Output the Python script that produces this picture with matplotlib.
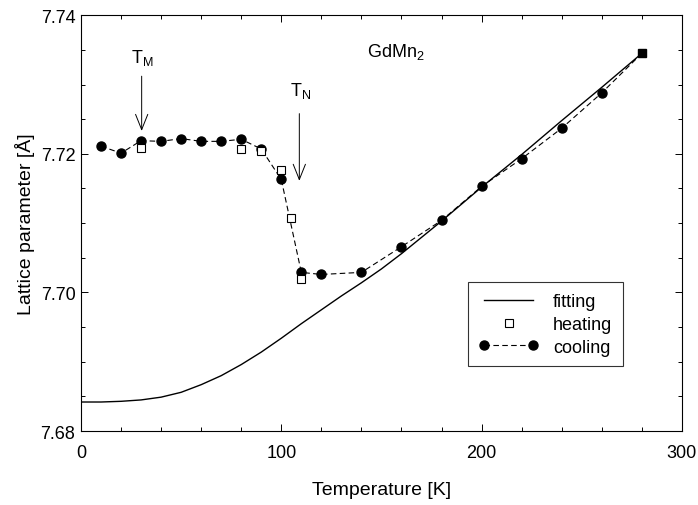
import matplotlib
matplotlib.use("Agg")
import matplotlib.pyplot as plt
from matplotlib.ticker import MultipleLocator
from matplotlib.lines import Line2D
from matplotlib.legend_handler import HandlerLine2D

plt.rcParams["font.family"] = ["Liberation Sans", "DejaVu Sans"]
plt.rcParams["mathtext.default"] = "regular"

# fitting curve
fit_T = [0, 10, 20, 30, 40, 50, 60, 70, 80, 90, 100, 110, 120, 130, 140,
         150, 160, 180, 200, 220, 240, 260, 280]
fit_a = [7.6842, 7.6842, 7.6843, 7.6845, 7.6849, 7.6856, 7.6867, 7.6880,
         7.6896, 7.6914, 7.6934, 7.6955, 7.6975, 7.6995, 7.7014, 7.7034,
         7.7056, 7.7103, 7.7152, 7.7199, 7.7248, 7.7296, 7.7345]

# heating (open squares)
heat_T = [30, 80, 90, 100, 105, 110]
heat_a = [7.7209, 7.7207, 7.7204, 7.7177, 7.7108, 7.7020]

# cooling (filled circles, dashed line)
cool_T = [10, 20, 30, 40, 50, 60, 70, 80, 90, 100, 110, 120, 140, 160,
          180, 200, 220, 240, 260]
cool_a = [7.7211, 7.7201, 7.7219, 7.7218, 7.7222, 7.7218, 7.7218, 7.7221,
          7.7207, 7.7163, 7.7029, 7.7026, 7.7029, 7.7066, 7.7104, 7.7153,
          7.7193, 7.7237, 7.7288]

# last point where both runs coincide
end_T = 280
end_a = 7.7345

dash = (0, (5, 3))

fig = plt.figure(figsize=(6.98, 5.06), dpi=100)
ax = fig.add_axes([0.116, 0.146, 0.861, 0.822])

ax.plot(fit_T, fit_a, color="black", lw=1.0)
ax.plot(cool_T + [end_T], cool_a + [end_a], color="black", lw=0.8,
        ls=dash, marker="o", ms=6.5, markevery=list(range(len(cool_T))),
        zorder=3)
ax.plot(heat_T, heat_a, ls="none", marker="s", ms=5.5, mfc="white",
        mec="black", mew=0.8, zorder=4)
ax.plot([end_T], [end_a], ls="none", marker="s", ms=6, color="black", zorder=5)

ax.set_xlim(0, 300)
ax.set_ylim(7.68, 7.74)
ax.xaxis.set_major_locator(MultipleLocator(100))
ax.xaxis.set_minor_locator(MultipleLocator(20))
ax.yaxis.set_major_locator(MultipleLocator(0.02))
ax.yaxis.set_minor_locator(MultipleLocator(0.005))
ax.yaxis.set_major_formatter(plt.FormatStrFormatter("%.2f"))
ax.tick_params(which="both", direction="in", top=True, right=True,
               labelsize=13, width=0.7)
ax.tick_params(which="major", length=5)
ax.tick_params(which="minor", length=3)
ax.tick_params(axis="x", pad=9)
ax.tick_params(axis="y", pad=4)
for s in ax.spines.values():
    s.set_linewidth(0.8)

ax.set_xlabel("Temperature [K]", fontsize=14, labelpad=15)
ax.set_ylabel("Lattice parameter [Å]", fontsize=14, labelpad=4)

ax.text(143, 7.7348, "GdMn$_2$", fontsize=13, va="center", ha="left")
ax.text(30.5, 7.7340, "T$_M$", fontsize=13, va="center", ha="center")
ax.text(109.5, 7.7292, "T$_N$", fontsize=13, va="center", ha="center")
arrow = dict(arrowstyle="->,head_length=0.55,head_width=0.22",
             lw=0.7, color="black", mutation_scale=20)
ax.annotate("", xy=(30.3, 7.7229), xytext=(30.3, 7.7316), arrowprops=arrow)
ax.annotate("", xy=(109, 7.7157), xytext=(109, 7.7262), arrowprops=arrow)

# legend handles
h_fit = Line2D([], [], color="black", lw=1.0)
h_heat = Line2D([], [], ls="none", marker="s", ms=5.5, mfc="white",
                mec="black", mew=0.8)
h_cool = Line2D([], [], color="black", lw=0.8, ls=dash, marker="o", ms=6.5)
leg = ax.legend([h_fit, h_heat, h_cool], ["fitting", "heating", "cooling"],
                loc="upper left", bbox_to_anchor=(0.644, 0.358),
                borderaxespad=0, fontsize=13, frameon=True, fancybox=False,
                edgecolor="black", handlelength=3.3, handletextpad=0.8,
                labelspacing=0.32, borderpad=0.6, numpoints=2,
                handler_map={h_heat: HandlerLine2D(numpoints=1)})
leg.get_frame().set_linewidth(0.8)

fig.savefig("out.png", dpi=100)
